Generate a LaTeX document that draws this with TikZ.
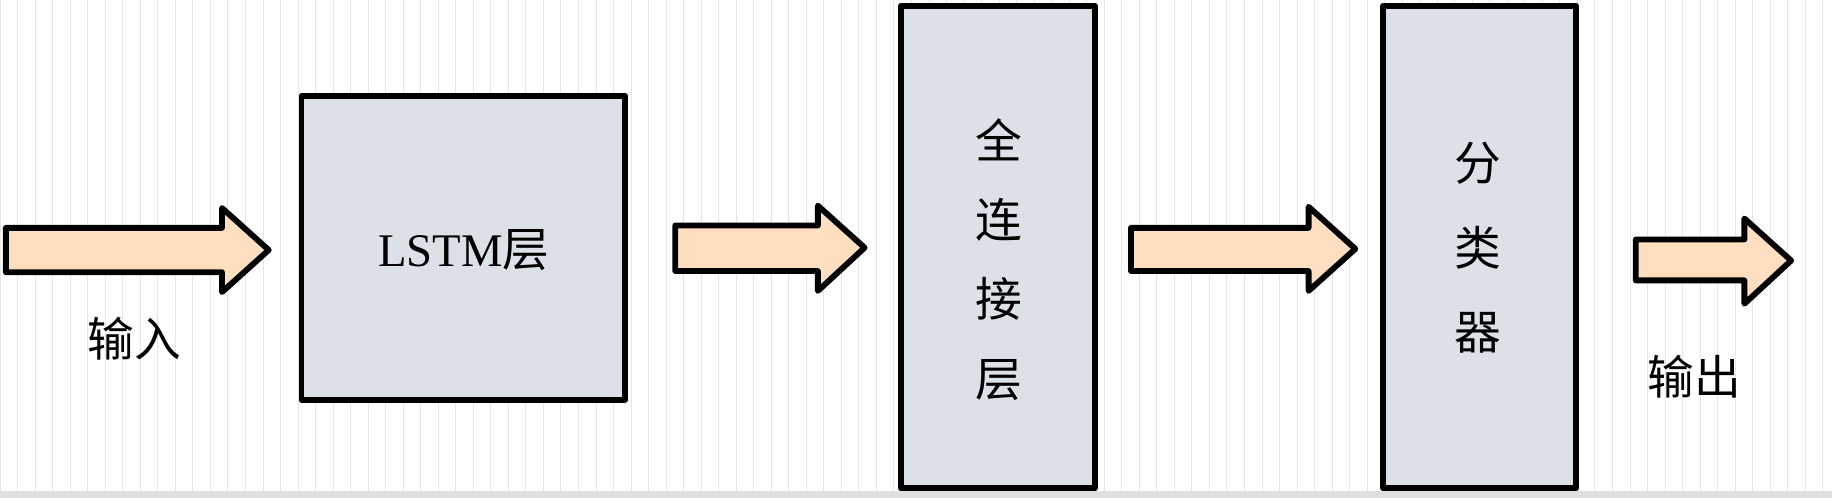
\documentclass[tikz,border=0pt]{standalone}
\usepackage{fontspec}
\setmainfont{Liberation Serif}
\newfontfamily\cjk{Noto Sans CJK SC}
\definecolor{boxfill}{HTML}{DCE0E7}
\definecolor{arrfill}{HTML}{FFDFBF}
\begin{document}
\begin{tikzpicture}[x=1pt,y=-1pt,
  blk/.style={draw=black,line width=5pt,fill=boxfill,line join=round},
  fat/.style={draw=black,line width=5pt,fill=arrfill,line join=round},
  lbl/.style={font=\fontsize{40}{44}\selectfont}]
\useasboundingbox (0,0) rectangle (1568,426);
\fill[white] (0,0) rectangle (1568,426);
\draw[black!10,line width=0.6pt,step=15] (0,0) grid (1568,420);
\fill[black!12] (0,420) rectangle (1568,426);
% arrows
\draw[fat] (5,195) -- (190,195) -- (190,178) -- (230,214) -- (190,250) -- (190,233) -- (5,233) -- cycle;
\draw[fat] (578,193) -- (700,193) -- (700,176) -- (740,212) -- (700,249) -- (700,232) -- (578,232) -- cycle;
\draw[fat] (968,195) -- (1120,195) -- (1120,177) -- (1160,213) -- (1120,249) -- (1120,232) -- (968,232) -- cycle;
\draw[fat] (1400,205) -- (1493,205) -- (1493,187) -- (1533,223) -- (1493,260) -- (1493,240) -- (1400,240) -- cycle;
% boxes
\draw[blk] (258,82) rectangle (535,342);
\draw[blk] (771,5) rectangle (937,418);
\draw[blk] (1184,5) rectangle (1349,418);
\node[lbl] (l) at (397,214) {LSTM{\cjk 层}};
\node[lbl,align=center,font=\fontsize{40}{68}\selectfont\cjk] (f) at (855,222) {全\\连\\接\\层};
\node[lbl,align=center,font=\fontsize{40}{72}\selectfont\cjk] (c) at (1265,212) {分\\类\\器};
\node[lbl,font=\fontsize{40}{44}\selectfont\cjk] (i) at (115,290) {输入};
\node[lbl,font=\fontsize{40}{44}\selectfont\cjk] (o) at (1450,322) {输出};
\end{tikzpicture}
\end{document}
